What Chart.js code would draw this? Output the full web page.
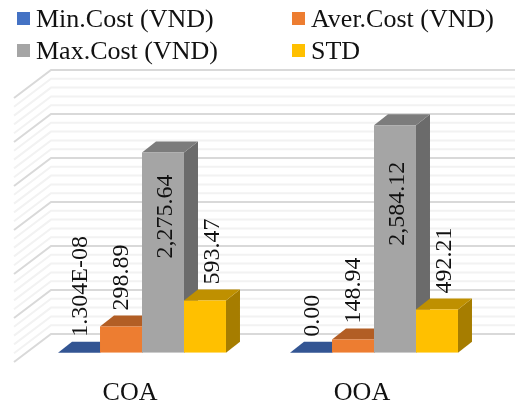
<!DOCTYPE html>
<html>
<head>
<meta charset="utf-8">
<title>Cost chart</title>
<script src="https://cdn.jsdelivr.net/npm/chart.js@4"></script>
<style>
    html, body { margin: 0; padding: 0; background: #fff; }
    #wrap { position: relative; width: 515px; height: 405px; overflow: hidden; }
    #cost-chart { position: absolute; left: 0; top: 0; }
    .legend-item { position: absolute; font: 26px "Liberation Serif", serif; line-height: 30px; color: #111; white-space: nowrap; }
    .legend-box { position: absolute; width: 13px; height: 13px; }
</style>
</head>
<body>
<div id="wrap">
    <canvas id="cost-chart" width="515" height="405"></canvas>
    <div id="legend"></div>
</div>
<script>
const categories = ['COA', 'OOA'];
const seriesNames = ['Min.Cost (VND)', 'Aver.Cost (VND)', 'Max.Cost (VND)', 'STD'];
const minCost = [1.304e-8, 0];
const averCost = [298.89, 148.94];
const maxCost = [2275.64, 2584.12];
const stdCost = [593.47, 492.21];
const minLabels = ['1.304E-08', '0.00'];
const averLabels = ['298.89', '148.94'];
const maxLabels = ['2,275.64', '2,584.12'];
const stdLabels = ['593.47', '492.21'];

const frontColors = ['#4472C4', '#ED7D31', '#A5A5A5', '#FFC000'];
const topColors = ['#335593', '#B25E25', '#7C7C7C', '#BF9000'];
const sideColors = ['#2A4A80', '#8E4B1D', '#6B6B6B', '#A67D00'];
const labelShift = [2, 1, 3, 8];

// depth of a bar and of the back wall, in px
const barDepthX = 14;
const barDepthY = 11;
const wallDepthY = 18.7;
const wallLeft = 51;
const floorDx = 37;
const floorDy = 28;

function drawFace(ctx, points, color) {
    ctx.fillStyle = color;
    ctx.beginPath();
    points.forEach(([x, y], i) => (i ? ctx.lineTo(x, y) : ctx.moveTo(x, y)));
    ctx.closePath();
    ctx.fill();
}

const wall3d = {
    id: 'wall3d',
    beforeDatasetsDraw(chart) {
        const ctx = chart.ctx;
        const yScale = chart.scales.y;
        ctx.save();
        ctx.lineWidth = 2;
        // minor lines first so the major ones stay on top
        [false, true].forEach(major => {
            ctx.strokeStyle = major ? '#D9D9D9' : '#F2F2F2';
            yScale.ticks.forEach(t => {
                if ((t.value % 500 === 0) !== major) return;
                const y = yScale.getPixelForValue(t.value) - wallDepthY;
                ctx.beginPath();
                ctx.moveTo(wallLeft - floorDx, y + floorDy);
                ctx.lineTo(wallLeft, y);
                ctx.lineTo(515, y);
                ctx.stroke();
            });
        });

        // top and side faces, left to right
        categories.forEach((c, i) => {
            chart.data.datasets.forEach((ds, d) => {
                const bar = chart.getDatasetMeta(d).data[i];
                const left = bar.x - bar.width / 2;
                const right = bar.x + bar.width / 2;
                drawFace(ctx, [[right, bar.y], [right + barDepthX, bar.y - barDepthY], [right + barDepthX, bar.base - barDepthY], [right, bar.base]], sideColors[d]);
                drawFace(ctx, [[left, bar.y], [left + barDepthX, bar.y - barDepthY], [right + barDepthX, bar.y - barDepthY], [right, bar.y]], topColors[d]);
            });
        });
        ctx.restore();
    },
    afterDatasetsDraw(chart) {
        const ctx = chart.ctx;
        ctx.save();
        ctx.font = '24px "Liberation Serif", serif';
        ctx.fillStyle = '#111';
        ctx.textAlign = 'left';
        ctx.textBaseline = 'middle';
        chart.data.datasets.forEach((ds, d) => {
            chart.getDatasetMeta(d).data.forEach((bar, i) => {
                // the tallest series has its label inside the bar
                const y = d === 2 ? bar.base - (bar.base - bar.y) * 0.47 : bar.y - 16;
                ctx.save();
                ctx.translate(bar.x + labelShift[d], y);
                ctx.rotate(-Math.PI / 2);
                ctx.fillText(ds.valueLabels[i], 0, 0);
                ctx.restore();
            });
        });
        ctx.restore();
    }
};

new Chart(document.getElementById('cost-chart').getContext('2d'), {
    type: 'bar',
    data: {
        labels: categories,
        datasets: [
            { label: seriesNames[0], data: minCost, valueLabels: minLabels, backgroundColor: frontColors[0] },
            { label: seriesNames[1], data: averCost, valueLabels: averLabels, backgroundColor: frontColors[1] },
            { label: seriesNames[2], data: maxCost, valueLabels: maxLabels, backgroundColor: frontColors[2] },
            { label: seriesNames[3], data: stdCost, valueLabels: stdLabels, backgroundColor: frontColors[3] }
        ]
    },
    options: {
        responsive: false,
        animation: false,
        categoryPercentage: 0.724,
        barPercentage: 1,
        layout: { padding: { left: 26, right: 25, top: 88.7, bottom: 0 } },
        plugins: { legend: { display: false }, tooltip: { enabled: false } },
        scales: {
            // every 100 needed for the wall lines, so no skipping
            y: { display: false, min: 0, max: 3000, ticks: { stepSize: 100, autoSkip: false } },
            x: {
                grid: { display: false },
                border: { display: false },
                afterFit: s => { s.height = 52.3; },
                ticks: {
                    font: { family: '"Liberation Serif", serif', size: 26 },
                    color: '#111',
                    padding: 17,
                    labelOffset: -12,
                    maxRotation: 0
                }
            }
        }
    },
    plugins: [wall3d]
});

function renderLegend() {
    const spots = [[17, 12], [292, 12], [17, 44], [292, 44]];
    document.getElementById('legend').innerHTML = seriesNames.map((name, i) => {
        const [x, y] = spots[i];
        return `<span class="legend-box" style="left:${x}px;top:${y}px;background:${frontColors[i]}"></span>` +
            `<span class="legend-item" style="left:${x + 19}px;top:${y - 8}px">${name}</span>`;
    }).join('');
}
renderLegend();
</script>
</body>
</html>
